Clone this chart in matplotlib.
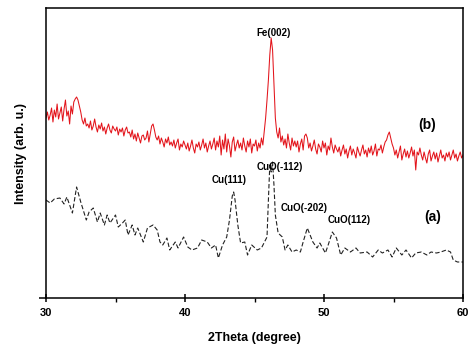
import matplotlib
matplotlib.use("Agg")
import matplotlib.pyplot as plt
import numpy as np

# XRD patterns (arbitrary intensity units).
two_theta_b = np.round(np.arange(30.0, 60.01, 0.1), 1)
intensity_b = [
    180, 186, 178, 183, 190, 176, 188, 181, 194, 179,
    185, 191, 177, 189, 198, 182, 187, 174, 192, 184,
    196, 199, 201, 198, 192, 186, 178, 174, 180, 172,
    174, 170, 177, 168, 172, 179, 171, 166, 173, 169,
    175, 167, 171, 164, 170, 174, 168, 165, 172, 169,
    167, 171, 163, 169, 166, 170, 162, 168, 171, 165,
    166, 161, 168, 159, 164, 157, 165, 160, 155, 162,
    163, 158, 160, 167, 156, 164, 172, 174, 168, 161,
    158, 162, 154, 160, 156, 151, 159, 155, 161, 153,
    156, 152, 158, 150, 155, 159, 148, 154, 151, 157,
    153, 149, 155, 147, 152, 158, 150, 145, 154, 151,
    156, 148, 153, 159, 150, 155, 146, 152, 157, 149,
    154, 160, 148, 157, 151, 162, 143, 158, 149, 164,
    146, 159, 152, 141, 156, 161, 147, 153, 158, 150,
    155, 148, 160, 152, 146, 157, 151, 159, 145, 154,
    152, 158, 147, 155, 150, 160, 153, 166, 180, 198,
    218, 243, 260, 248, 213, 180, 166, 160, 170, 156,
    162, 153, 159, 150, 164, 155, 148, 160, 152, 157,
    151, 157, 146, 154, 159, 148, 162, 164, 160, 150,
    155, 147, 152, 158, 149, 144, 154, 151, 146, 157,
    150, 155, 143, 152, 148, 160, 151, 145, 153, 149,
    146, 151, 142, 148, 153, 144, 149, 140, 147, 152,
    143, 149, 145, 140, 151, 146, 142, 148, 153, 144,
    148, 141, 150, 145, 152, 143, 147, 154, 142, 149,
    148, 153, 145, 151, 156, 158, 163, 166, 160, 154,
    150, 143, 148, 140, 146, 152, 138, 144, 149, 141,
    147, 140, 145, 151, 142, 148, 128, 146, 143, 150,
    143, 138, 146, 140, 135, 144, 148, 137, 142, 146,
    139, 145, 136, 142, 148, 140, 143, 137, 145, 141,
    146, 138, 143, 148, 140, 144, 137, 142, 146, 140,
    143,
]

two_theta_a = [
    30.0, 30.3, 30.6, 31.0, 31.3, 31.5, 31.9, 32.2, 32.5, 32.9,
    33.1, 33.4, 33.7, 33.9, 34.2, 34.4, 34.6, 35.0, 35.2, 35.5,
    35.7, 35.9, 36.2, 36.4, 36.6, 37.0, 37.3, 37.7, 38.0, 38.2,
    38.4, 38.7, 38.9, 39.3, 39.5, 39.9, 40.2, 40.5, 40.9, 41.2,
    41.6, 41.9, 42.2, 42.4, 42.7, 43.0, 43.2, 43.4, 43.5, 43.6,
    43.8, 44.0, 44.3, 44.5, 44.8, 45.2, 45.5, 45.9, 46.0, 46.1,
    46.2, 46.3, 46.4, 46.5, 46.7, 47.0, 47.2, 47.4, 47.7, 48.0,
    48.3, 48.5, 48.8, 49.2, 49.5, 49.7, 50.1, 50.3, 50.6, 50.9,
    51.2, 51.5, 51.9, 52.3, 52.6, 53.1, 53.5, 53.9, 54.2, 54.6,
    54.9, 55.2, 55.6, 55.9, 56.3, 56.6, 57.0, 57.4, 57.7, 58.1,
    58.4, 58.8, 59.1, 59.3, 59.6, 60.0,
]
intensity_a = [
    98, 95, 99, 100, 94, 101, 85, 111, 96, 78,
    86, 90, 76, 85, 73, 83, 75, 83, 71, 75,
    78, 63, 73, 63, 70, 56, 70, 73, 68, 56,
    53, 60, 48, 56, 50, 61, 51, 48, 50, 58,
    56, 50, 53, 40, 53, 61, 78, 102, 106, 98,
    73, 55, 56, 43, 53, 48, 50, 61, 98, 133,
    126, 136, 113, 83, 65, 61, 48, 53, 46, 48,
    46, 56, 70, 56, 50, 55, 45, 53, 66, 60,
    43, 50, 46, 50, 45, 46, 41, 48, 45, 48,
    41, 50, 43, 48, 40, 45, 46, 43, 46, 45,
    46, 48, 46, 38, 36, 36,
]

peak_labels = ["Fe(002)", "Cu(111)", "CuO(-112)", "CuO(-202)", "CuO(112)"]
peak_x = [46.35, 43.2, 46.8, 48.6, 51.8]
peak_y = [265, 118, 131, 90, 78]

BOLD = dict(family="Liberation Sans", weight="bold")

fig = plt.figure(figsize=(4.69, 3.49), dpi=100)
ax = fig.add_axes([46 / 469, 51 / 349, 417 / 469, 290 / 349])

ax.plot(two_theta_b, intensity_b, color="#e3141b", linewidth=0.75)
ax.plot(two_theta_a, intensity_a, color="#222222", linewidth=0.8,
        linestyle=(0, (4, 2)))

for lab, x, y in zip(peak_labels, peak_x, peak_y):
    ax.text(x, y, lab, ha="center", va="center", fontsize=7, **BOLD)
ax.text(57.4, 173, "(b)", ha="center", va="center", fontsize=10, **BOLD)
ax.text(57.8, 81, "(a)", ha="center", va="center", fontsize=10, **BOLD)

ax.set_xlim(30, 60)
ax.set_ylim(0, 290)
ax.set_xticks([30, 40, 50, 60])
ax.set_xticks([35, 45, 55], minor=True)
ax.set_yticks([0])
ax.set_yticklabels([""])
ax.tick_params(axis="x", which="major", direction="inout", length=6,
               width=1.1, pad=4)
ax.tick_params(axis="x", which="minor", direction="out", length=3, width=1.0)
ax.tick_params(axis="y", which="major", direction="out", length=5, width=1.1)
for lbl in ax.get_xticklabels():
    lbl.set_fontsize(8)
    lbl.set_fontfamily("Liberation Sans")
    lbl.set_fontweight("bold")
for sp in ax.spines.values():
    sp.set_linewidth(1.1)

ax.set_xlabel("2Theta (degree)", fontsize=9, labelpad=10, **BOLD)
ax.set_ylabel("Intensity (arb. u.)", fontsize=9, labelpad=5, **BOLD)

fig.savefig("out.png", dpi=100)
